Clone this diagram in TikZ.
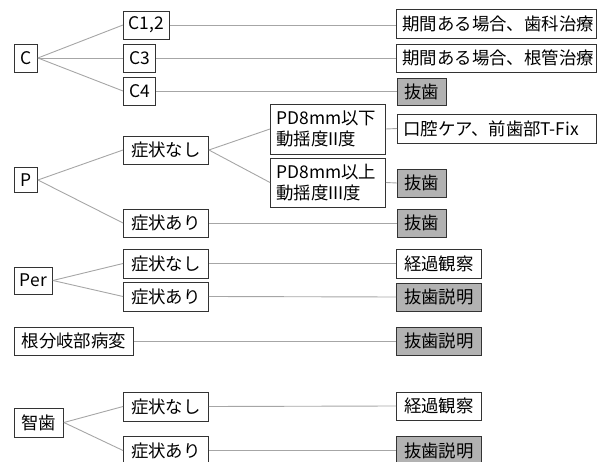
\documentclass[tikz,border=0pt]{standalone}
\usepackage{fontspec}
\setmainfont{Noto Sans CJK JP}
\begin{document}
\begin{tikzpicture}[x=1pt,y=-1pt,
  box/.style={draw=black!80,line width=0.9pt,fill=white,anchor=west,inner sep=0pt,
    minimum height=28pt,font=\fontsize{17.4}{21.5}\selectfont},
  gbox/.style={box,fill=black!30},
  wbox/.style={box,align=left,inner xsep=6pt},
  link/.style={draw=black!35,line width=0.9pt}]
\useasboundingbox (0,0) rectangle (597,462);
\clip (0,0) rectangle (597,462);
% C
\node[box,minimum width=23pt] (C) at (14,58) {C};
\node[box,minimum width=46pt] (c12) at (123,25) {C1,2};
\node[box,minimum width=32pt] (c3) at (123,58) {C3};
\node[box,minimum width=32pt] (c4) at (123,91) {C4};
\node[wbox,minimum width=200pt,text width=188pt,minimum height=29pt] (r1) at (396,23.5) {期間ある場合、歯科治療};
\node[wbox,minimum width=200pt,text width=188pt] (r2) at (396,58) {期間ある場合、根管治療};
\node[gbox,minimum width=49pt,minimum height=27pt] (r3) at (397,91.5) {抜歯};
% P
\node[box,minimum width=23pt,minimum height=25pt] (P) at (14,180) {P};
\node[box,minimum width=85pt] (pn) at (123,150) {症状なし};
\node[box,minimum width=85pt] (pa) at (123,223) {症状あり};
\node[wbox,minimum width=115pt,text width=103pt,minimum height=50pt] (pd1) at (270,129) {PD8mm以下\\動揺度II度};
\node[wbox,minimum width=115pt,text width=103pt,minimum height=49pt] (pd2) at (270,182.5) {PD8mm以上\\動揺度III度};
\node[wbox,minimum width=199pt,text width=187pt,minimum height=29pt] (r4) at (397,128.5) {口腔ケア、前歯部T-Fix};
\node[gbox,minimum width=49pt] (r5) at (397,183) {抜歯};
\node[gbox,minimum width=49pt] (r6) at (397,223) {抜歯};
% Per
\node[box,minimum width=38pt,minimum height=27pt] (Per) at (14,280.5) {Per};
\node[box,minimum width=85pt,minimum height=29pt] (pern) at (123,263.5) {症状なし};
\node[box,minimum width=85pt,minimum height=29pt] (pera) at (123,296.5) {症状あり};
\node[box,minimum width=85pt,minimum height=29pt] (r7) at (396,263.5) {経過観察};
\node[gbox,minimum width=85pt] (r8) at (396,297) {抜歯説明};
% 根分岐部病変
\node[box,minimum width=119pt] (kon) at (14,341) {根分岐部病変};
\node[gbox,minimum width=85pt] (r9) at (396,341) {抜歯説明};
% 智歯
\node[box,minimum width=49pt,minimum height=29pt] (chi) at (14,422.5) {智歯};
\node[box,minimum width=85pt,minimum height=29pt] (chn) at (123,406.5) {症状なし};
\node[box,minimum width=85pt,minimum height=29pt] (cha) at (123,450.5) {症状あり};
\node[box,minimum width=85pt] (r10) at (396,406) {経過観察};
\node[gbox,minimum width=85pt] (r11) at (396,450.5) {抜歯説明};
% links
\draw[link] (C.east) -- (c12.west);
\draw[link] (C.east) -- (c3.west);
\draw[link] (C.east) -- (c4.west);
\draw[link] (c12.east) -- (r1.west |- c12.east);
\draw[link] (c3.east) -- (r2.west |- c3.east);
\draw[link] (c4.east) -- (r3.west |- c4.east);
\draw[link] (P.east) -- (pn.west);
\draw[link] (P.east) -- (pa.west);
\draw[link] (pn.east) -- (pd1.west);
\draw[link] (pn.east) -- (pd2.west);
\draw[link] (pd1.east) -- (r4.west);
\draw[link] (pd2.east) -- (r5.west);
\draw[link] (pa.east) -- (r6.west);
\draw[link] (Per.east) -- (pern.west);
\draw[link] (Per.east) -- (pera.west);
\draw[link] (pern.east) -- (r7.west);
\draw[link] (pera.east) -- (r8.west);
\draw[link] (kon.east) -- (r9.west);
\draw[link] (chi.east) -- (chn.west);
\draw[link] (chi.east) -- (cha.west);
\draw[link] (chn.east) -- (r10.west);
\draw[link] (cha.east) -- (r11.west);
\end{tikzpicture}
\end{document}
